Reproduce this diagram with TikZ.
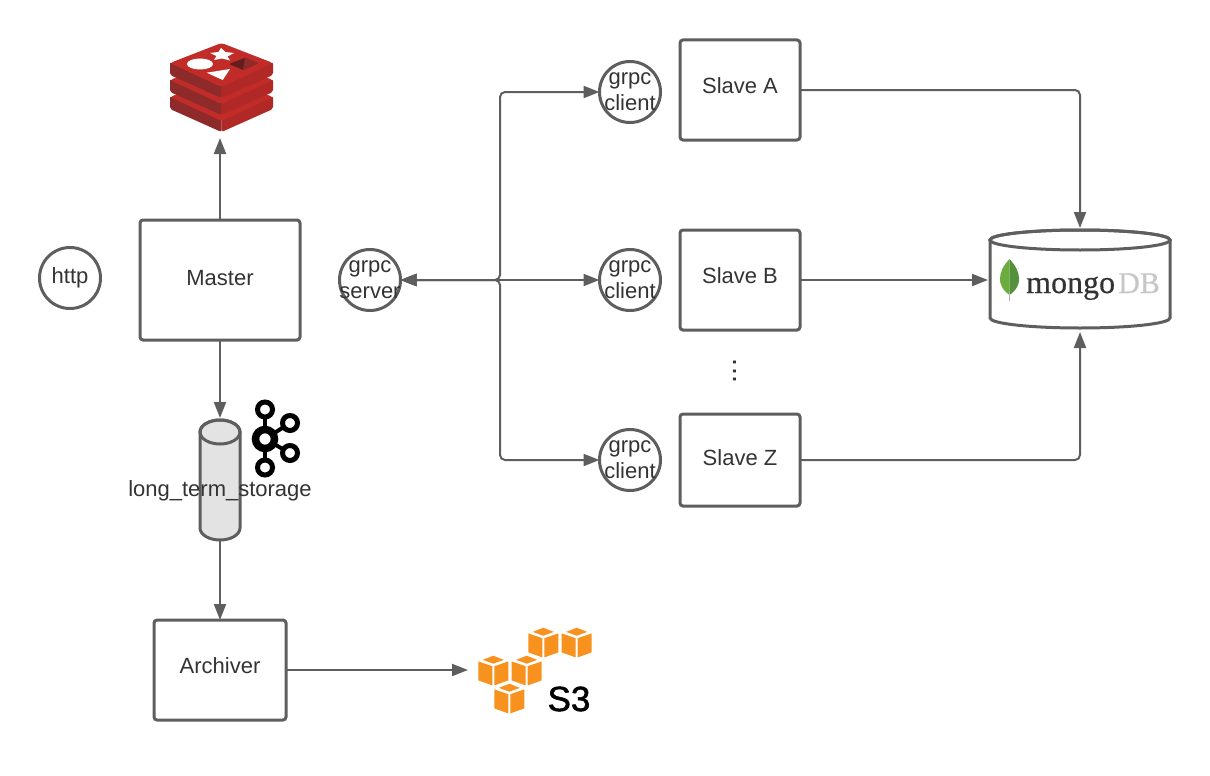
\documentclass[tikz,border=0pt]{standalone}
\usepackage{fontspec}
\setmainfont{Liberation Sans}
\newfontfamily\logofont[FakeBold=0.4]{Liberation Serif}
\newfontfamily\heavyfont[FakeBold=1.5]{Liberation Sans}
\usetikzlibrary{arrows.meta,positioning,shapes.geometric}
\definecolor{linegray}{HTML}{5E5E5E}
\definecolor{textgray}{HTML}{333333}
\definecolor{redisred}{HTML}{C22C28}
\definecolor{redismid}{HTML}{B02926}
\definecolor{redisdark}{HTML}{8E2A29}
\definecolor{awsorange}{HTML}{F7921E}
\definecolor{leaflight}{HTML}{6CAC3E}
\definecolor{leafdark}{HTML}{55913A}

\begin{document}
\begin{tikzpicture}[
		x=1pt,y=-1pt,
		every node/.append style={font=\fontsize{22}{26}\selectfont,text=textgray,align=center},
		service/.style={draw=linegray,line width=3pt,rounded corners=3pt,outer sep=0pt,minimum width=#1},
		port/.style={circle,draw=linegray,line width=3pt,outer sep=0pt,inner sep=0pt,minimum size=61pt,label={[align=center]center:#1}},
		storeline/.style={draw=linegray,line width=3pt},
		icon/.style={minimum width=#1,inner sep=0pt,outer sep=0pt},
		flow/.style={draw=linegray,line width=2pt,rounded corners=5pt,-{Triangle[length=16pt,width=12pt]}},
		flowboth/.style={flow,{Triangle[length=16pt,width=12pt]}-{Triangle[length=16pt,width=12pt]}},
		redislayer/.pic={
			\fill[redisdark,rounded corners=2pt] (-51.5,19) -- (-51.5,32) -- (0,55) -- (0,40) -- cycle;
			\fill[redismid,rounded corners=2pt] (51.5,19) -- (51.5,32) -- (0,55) -- (0,40) -- cycle;
			\fill[redisred,rounded corners=3pt] (0,0) -- (-51.5,20) -- (0,44) -- (51.5,20) -- cycle;
		},
		s3cube/.pic={
			\fill[awsorange] (0,0) -- (-10.5,4.2) -- (0,8) -- (10.5,4.2) -- cycle;
			\fill[awsorange] (-15,5.7) -- (-1,10.5) -- (-1,29.7) -- (-15,24.7) -- cycle;
			\fill[awsorange] (15,5.7) -- (1,10.5) -- (1,29.7) -- (15,24.7) -- cycle;
		}
	]
	\useasboundingbox (0,0) rectangle (1210,776);
	% left column
	\node[icon=104pt,minimum height=100pt] (redis) at (220,88) {};
	\pic at (221.5,77) {redislayer};
	\pic at (221.5,60) {redislayer};
	\pic at (221.5,43) {redislayer};
	\fill[white] (200,64) ellipse (13 and 5.5);
	\fill[white] (221,48) -- (225.5,52) -- (234,53) -- (227.5,56.5) -- (230,60.5) -- (222,58.5) -- (214,60) -- (216.5,56) -- (210,53) -- (218.5,52) -- cycle;
	\fill[white] (206.7,72.7) -- (230,69) -- (222.7,80) -- cycle;
	\fill[redisdark!70!black] (229,64) -- (245,57.7) -- (258,63.3) -- (243,70) -- cycle;
	\fill[redisdark] (245,57.7) -- (258,63.3) -- (243,70) -- cycle;
	\node[port={http}] (http) at (70,278) {};
	\node[service=160pt,minimum height=120pt,text depth=4pt] (master) at (220,280) {Master};
	\node[icon=44pt,minimum height=122pt] (kafka) at (220,479) {};
	\path[storeline,fill=gray!22] (200,432) -- (200,528) arc[start angle=180,end angle=0,x radius=20,y radius=12] -- (240,432) arc[start angle=0,end angle=-180,x radius=20,y radius=12] -- cycle;
	\draw[storeline] (220,432) ellipse (20 and 12);
	\node (kafkaLabel) at (220,491) {long\_term\_storage};
	\foreach \px/\py in {265/409.5,290/423,290/453,265/467.5} {
		\draw[black,line width=4pt] (265,439) -- (\px,\py);
		\draw[black,line width=5pt,fill=white] (\px,\py) circle (7.5);
	}
	\draw[black,line width=7.5pt,fill=white] (265,439) circle (9.5);
	\node[service=132pt,minimum height=100pt,text depth=8pt] (archiver) at (220,670) {Archiver};
	\node[icon=124pt,minimum height=90pt] (s3) at (530,670) {};
	\pic at (543.3,627.7) {s3cube};
	\pic at (576.7,627.7) {s3cube};
	\pic at (493.3,655.7) {s3cube};
	\pic at (526.7,655.7) {s3cube};
	\pic at (509.3,683.7) {s3cube};
	\node[font=\heavyfont\fontsize{35}{35}\selectfont,text=black,inner sep=0pt] (s3Label) at (569,699) {S3};
	% grpc fan out
	\node[port={grpc\\server}] (grpcServer) at (370,280) {};
	\node[port={grpc\\client}] (clientA) at (630,92) {};
	\node[port={grpc\\client}] (clientB) at (630,280) {};
	\node[port={grpc\\client}] (clientZ) at (630,460) {};
	\node[service=120pt,minimum height=100pt,text depth=8pt] (slaveA) at (740,90) {Slave A};
	\node[service=120pt,minimum height=100pt,text depth=8pt] (slaveB) at (740,280) {Slave B};
	\node[service=120pt,minimum height=92pt,text depth=4pt] (slaveZ) at (740,460) {Slave Z};
	\node[rotate=90,font=\fontsize{29}{29}\selectfont] (slaveDots) at (735,371) {...};
	\coordinate (busJoin) at (500,280);
	% mongo
	\node[icon=184pt,minimum height=104pt] (mongo) at (1080,280) {};
	\path[storeline,fill=white] (990,240) -- (990,318) arc[start angle=180,end angle=0,x radius=90,y radius=10] -- (1170,240) arc[start angle=0,end angle=-180,x radius=90,y radius=10] -- cycle;
	\draw[storeline] (1080,240) ellipse (90 and 10);
	\fill[leaflight] (1009.5,259) .. controls (1003,266) and (1000,272) .. (1000,279) .. controls (1000,287) and (1005,292) .. (1009.5,295) -- cycle;
	\fill[leafdark] (1009.5,259) .. controls (1016,266) and (1019,272) .. (1019,279) .. controls (1019,287) and (1014,292) .. (1009.5,295) -- cycle;
	\draw[gray!60,line width=1pt] (1009.5,292) -- (1009.5,301);
	\node[font=\logofont\fontsize{32}{32}\selectfont,text=textgray,inner sep=0pt,anchor=base west] (mongoWord) at (1026,293) {mongo};
	\node[font=\logofont\fontsize{30}{30}\selectfont,text=gray!45,inner sep=0pt,anchor=base west] (mongoDb) at (1118,293) {DB};
	% connectors
	\draw[flow] (master.north) -- (redis.south);
	\draw[flow] (master.south) -- (kafka.north);
	\draw[flow] (kafka.south) -- (archiver.north);
	\draw[flow] (archiver.east) -- (s3.west);
	\draw[flowboth] (grpcServer.east) -- (busJoin) |- (clientA.west);
	\draw[flowboth] (grpcServer.east) -- (clientB.west);
	\draw[flowboth] (grpcServer.east) -- (busJoin) |- (clientZ.west);
	\draw[flow] (slaveA.east) -| (mongo.north);
	\draw[flow] (slaveB.east) -- (mongo.west |- slaveB.east);
	\draw[flow] (slaveZ.east) -| (mongo.south);
\end{tikzpicture}
\end{document}
